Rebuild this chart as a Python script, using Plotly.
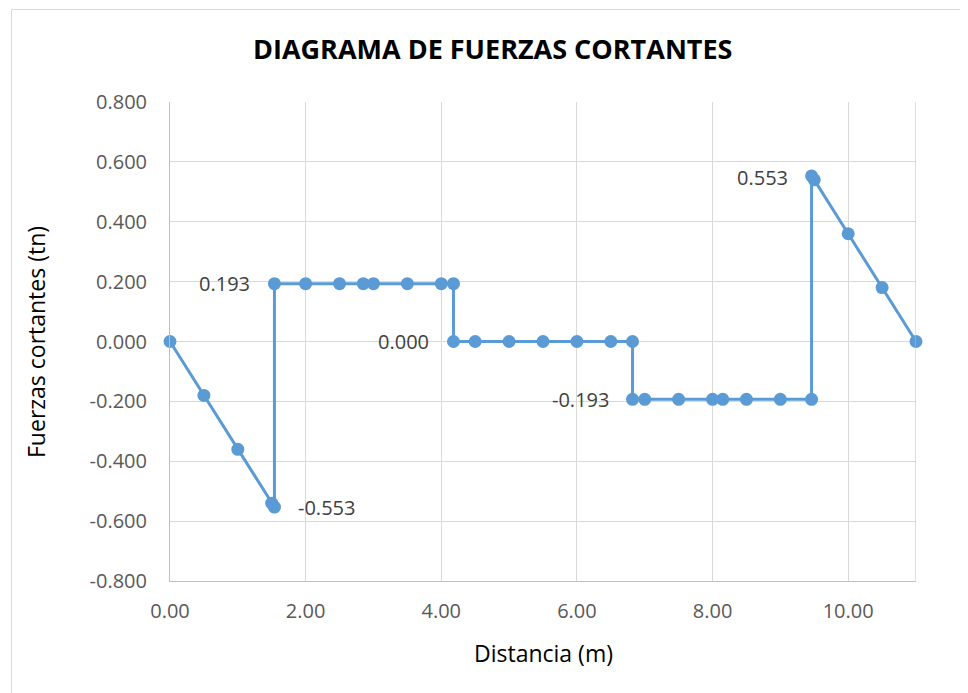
import plotly.graph_objects as go

# Data
distance = [0, 0.5, 1.0, 1.5, 1.54, 1.54, 2.0, 2.5, 2.85, 3.0, 3.5, 4.0, 4.18,
            4.18, 4.5, 5.0, 5.5, 6.0, 6.5, 6.82,
            6.82, 7.0, 7.5, 8.0, 8.15, 8.5, 9.0, 9.46,
            9.46, 9.5, 10.0, 10.5, 11.0]
shear = [0, -0.18, -0.36, -0.54, -0.553, 0.193, 0.193, 0.193, 0.193, 0.193, 0.193, 0.193, 0.193,
         0, 0, 0, 0, 0, 0, 0,
         -0.193, -0.193, -0.193, -0.193, -0.193, -0.193, -0.193, -0.193,
         0.553, 0.54, 0.36, 0.18, 0]
label_idx = [4, 5, 13, 20, 28]
label_side = ["right", "left", "left", "left", "left"]
x_ticks = [0, 2, 4, 6, 8, 10]
y_ticks = [-0.8, -0.6, -0.4, -0.2, 0, 0.2, 0.4, 0.6, 0.8]

# page has an 8px body margin; screen coords = figure coords + 8
OFF = 8
W, H = 968 - OFF, 693 - OFF
L, R, T, B = 170 - OFF, 916 - OFF, 102 - OFF, 581 - OFF
FONT = "Open Sans, Liberation Sans, sans-serif"

def px_x(sx):
    return (sx - OFF - L) / (R - L)

def px_y(sy):
    return (B - (sy - OFF)) / (B - T)

fig = go.Figure()
fig.add_trace(go.Scatter(
    x=distance, y=shear, mode="lines+markers",
    line=dict(color="#5b9bd5", width=3),
    marker=dict(color="#5b9bd5", size=13),
    cliponaxis=False, showlegend=False,
))

annotations = [
    dict(text="<b>DIAGRAMA DE FUERZAS CORTANTES</b>", xref="paper", yref="paper",
         x=px_x(492), y=px_y(48), xanchor="center", yanchor="middle", showarrow=False,
         font=dict(family=FONT, size=27, color="#000000")),
    dict(text="Distancia (m)", xref="paper", yref="paper",
         x=px_x(543), y=px_y(653), xanchor="center", yanchor="middle", showarrow=False,
         font=dict(family=FONT, size=23, color="#000000")),
    dict(text="Fuerzas cortantes (tn)", xref="paper", yref="paper", textangle=-90,
         x=px_x(36), y=px_y(342), xanchor="center", yanchor="middle", showarrow=False,
         font=dict(family=FONT, size=23, color="#000000")),
]
for i, side in zip(label_idx, label_side):
    annotations.append(dict(
        text=f"{shear[i]:.3f}", x=distance[i], y=shear[i], xref="x", yref="y",
        xanchor="left" if side == "right" else "right", yanchor="middle",
        xshift=22 if side == "right" else -22, yshift=-2 if i in (28,) else 0,
        showarrow=False, font=dict(family=FONT, size=20, color="#404040")))

fig.update_layout(
    width=W, height=H,
    margin=dict(l=L, r=W - R, t=T, b=H - B),
    plot_bgcolor="white", paper_bgcolor="white",
    font=dict(family=FONT, color="#595959"),
    xaxis=dict(range=[0, 11], tickmode="array", tickvals=x_ticks,
               ticktext=[f"{v:.2f}" for v in x_ticks],
               showgrid=True, gridcolor="#d9d9d9", gridwidth=1,
               showline=True, linecolor="#bfbfbf", linewidth=1,
               zeroline=False, ticks="", ticklabelstandoff=12,
               tickfont=dict(size=20, color="#595959")),
    yaxis=dict(range=[-0.8, 0.8], tickmode="array", tickvals=y_ticks,
               ticktext=[f"{v:.3f}" for v in y_ticks],
               showgrid=True, gridcolor="#d9d9d9", gridwidth=1,
               showline=True, linecolor="#bfbfbf", linewidth=1,
               zeroline=False, ticks="", ticklabelstandoff=18,
               tickfont=dict(size=20, color="#595959")),
    annotations=annotations,
    shapes=[
        dict(type="line", xref="x", yref="paper", x0=11, x1=11, y0=0, y1=1,
             line=dict(color="#bfbfbf", width=1)),
        dict(type="rect", xref="paper", yref="paper",
             x0=px_x(11.5), x1=px_x(990), y0=px_y(720), y1=px_y(9.5),
             line=dict(color="#d9d9d9", width=1), fillcolor="rgba(0,0,0,0)", layer="below"),
    ],
)

fig.write_html("out.html")
